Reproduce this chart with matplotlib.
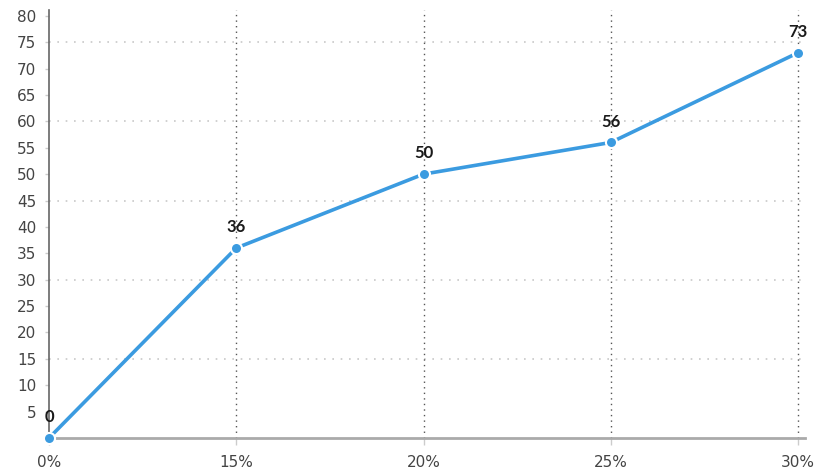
import matplotlib.pyplot as plt
import numpy as np

categories = ['0%', '15%', '20%', '25%', '30%']
values = [0, 36, 50, 56, 73]
y_ticks = [5, 10, 15, 20, 25, 30, 35, 40, 45, 50, 55, 60, 65, 70, 75, 80]
grid_y = [15, 30, 45, 60, 75]

plt.rcParams['font.family'] = ['DejaVu Sans']

fig = plt.figure(figsize=(8.16, 4.70), dpi=100)
ax = fig.add_axes([49 / 816, 32 / 470, 756 / 816, 428 / 470])

x = np.arange(len(categories))
blue = '#3b9be0'

# grid
for gy in grid_y:
    ax.axhline(gy, color='#c8c8c8', lw=1.2, ls=(0, (1, 4)), zorder=1)
for gx in x[1:]:
    ax.axvline(gx, color='#555555', lw=1.0, ls=(0, (1, 3)), zorder=1)

ax.plot(x, values, color=blue, lw=2.6, marker='o', markersize=8,
        markerfacecolor=blue, markeredgecolor='white', markeredgewidth=1.5,
        zorder=3, clip_on=False)

for xi, v in zip(x, values):
    ax.text(xi, v + 2.4, str(v), ha='center', va='bottom', fontsize=12,
            fontweight='bold', family=['Lato', 'DejaVu Sans'],
            color='#1a1a1a', zorder=4)

ax.set_xlim(0, 4 + 7 / 187.25)
ax.set_ylim(0, 81.1)
ax.set_xticks(x)
ax.set_xticklabels(categories)
ax.set_yticks(y_ticks)

for s in ['top', 'right']:
    ax.spines[s].set_visible(False)
ax.spines['left'].set_color('#666666')
ax.spines['left'].set_linewidth(1.2)
ax.spines['bottom'].set_color('#aaaaaa')
ax.spines['bottom'].set_linewidth(2)

ax.tick_params(axis='y', length=3, width=1, color='#cccccc', pad=6,
               labelsize=11, labelcolor='#444444')
ax.tick_params(axis='x', length=5, width=1, color='#cccccc', pad=7,
               labelsize=11, labelcolor='#444444')

fig.savefig('out.png', dpi=100)
